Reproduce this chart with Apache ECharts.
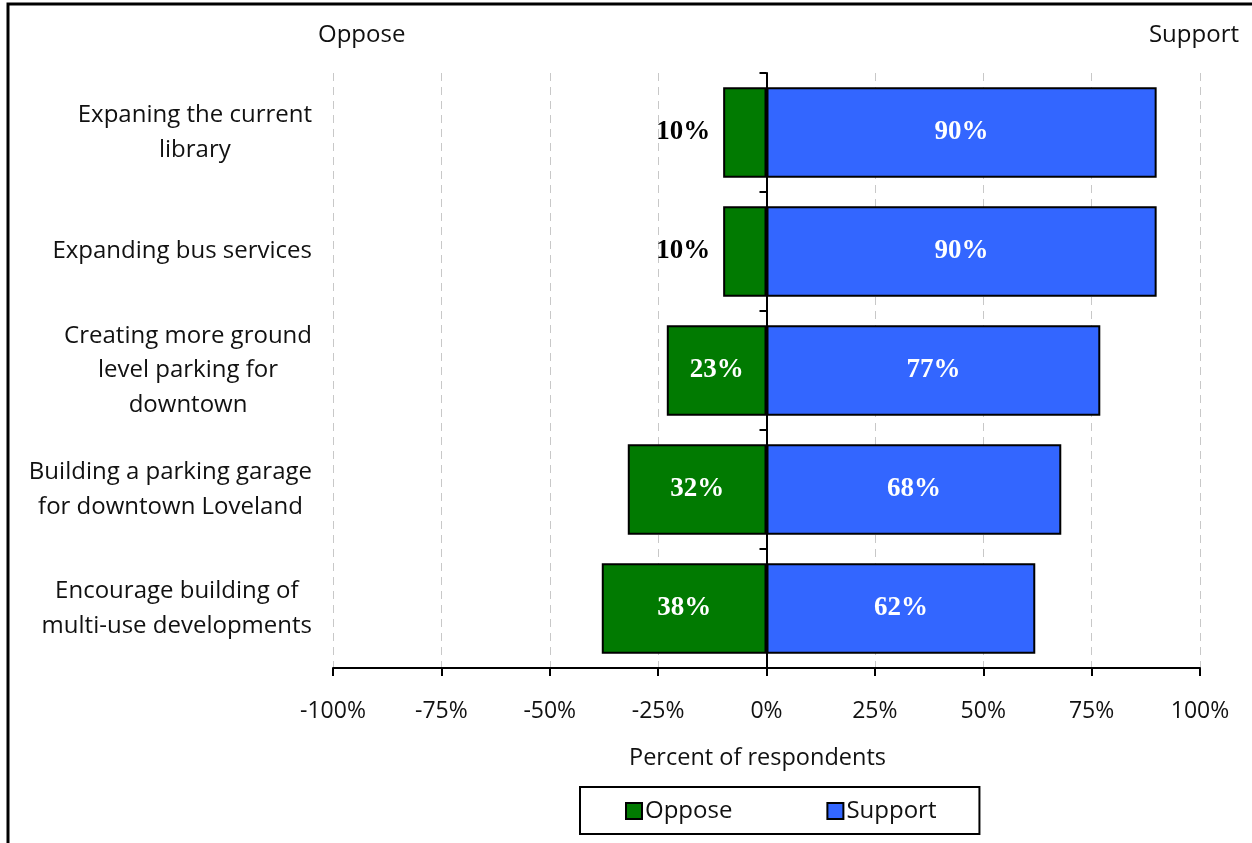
<!DOCTYPE html>
<html>
<head>
<meta charset="utf-8">
<script src="https://cdn.jsdelivr.net/npm/echarts@6/dist/echarts.min.js"></script>
<style>
  html, body { margin: 0; padding: 0; background: #fff; }
  #chart { width: 1252px; height: 843px; }
</style>
</head>
<body>
<div id="chart"></div>
<script>
// Survey items, listed top to bottom
const categories = [
  'Expaning the current\nlibrary',
  'Expanding bus services',
  'Creating more ground\nlevel parking for\ndowntown',
  'Building a parking garage\nfor downtown Loveland',
  'Encourage building of\nmulti-use developments'
];
// Share of respondents (percent)
const opposeValues = [10, 10, 23, 32, 38];
const supportValues = [90, 90, 77, 68, 62];
const xTicks = [-100, -75, -50, -25, 0, 25, 50, 75, 100];

const labelFont = '"Open Sans", "Noto Sans", sans-serif';
const valueFont = '"Liberation Serif", "DejaVu Serif", serif';
const green = '#017A01';
const blue = '#3366FF';

const chart = echarts.init(document.getElementById('chart'), null, { renderer: 'canvas' });

// Each line of a category name is centred inside a right-aligned block
function wrapLines(s) {
  return s.split('\n').map(l => '{c|' + l + '}').join('\n');
}

const option = {
  backgroundColor: '#fff',
  animation: false,
  grid: { left: 333, right: 52, top: 73, bottom: 175, containLabel: false },
  graphic: [
    { type: 'rect', shape: { x: 8, y: 4, width: 1260, height: 860 },
      style: { fill: 'none', stroke: '#000', lineWidth: 3 }, silent: true },
    { type: 'text', left: 318, top: 23,
      style: { text: 'Oppose', font: '24px ' + labelFont, fill: '#111' } },
    { type: 'text', right: 13, top: 23,
      style: { text: 'Support', font: '24px ' + labelFont, fill: '#111' } }
  ],
  legend: {
    data: ['Oppose', 'Support'],
    left: 580, top: 787,
    orient: 'horizontal',
    borderColor: '#000', borderWidth: 2,
    padding: [12, 43, 11, 45],
    itemGap: 94,
    itemWidth: 16, itemHeight: 16,
    icon: 'rect',
    textStyle: { fontFamily: labelFont, fontSize: 24, color: '#111', padding: [0, 0, 0, -2] },
    selectedMode: false
  },
  xAxis: {
    type: 'value',
    min: -100, max: 100, interval: 25,
    axisLine: { show: true, onZero: false, lineStyle: { color: '#000', width: 2 } },
    axisTick: { show: true, length: 8, lineStyle: { color: '#000', width: 2 } },
    axisLabel: {
      margin: 32, fontFamily: labelFont, fontSize: 23, color: '#111',
      formatter: v => xTicks.includes(v) ? v + '%' : ''
    },
    splitLine: { show: true, lineStyle: { color: '#c8c8c8', type: [8, 6], width: 1 } },
    name: 'Percent of respondents',
    nameLocation: 'middle',
    nameGap: 78,
    nameTextStyle: { fontFamily: labelFont, fontSize: 23.5, color: '#111', padding: [0, 18, 0, 0] }
  },
  yAxis: [
    {
      type: 'category',
      data: categories,
      inverse: true,
      position: 'left',
      axisLine: { show: false, onZero: false },
      axisTick: { show: false },
      axisLabel: {
        margin: 21,
        formatter: v => wrapLines(v),
        rich: {
          c: { align: 'center', fontFamily: labelFont, fontSize: 24, lineHeight: 34.5, color: '#111' }
        }
      }
    },
    {
      type: 'category',
      data: categories,
      inverse: true,
      position: 'left',
      axisLine: { show: true, onZero: true, lineStyle: { color: '#000', width: 2 } },
      axisTick: { show: true, length: 7, lineStyle: { color: '#000', width: 2 } },
      axisLabel: { show: false }
    }
  ],
  series: [
    {
      name: 'Oppose',
      type: 'bar',
      stack: 'total',
      barCategoryGap: '24%',
      data: opposeValues.map(v => {
        const outside = v < 15;
        return {
          value: -v,
          label: outside
            ? { position: 'left', distance: 13, color: '#000' }
            : { position: 'inside', color: '#fff' }
        };
      }),
      itemStyle: { color: green, borderColor: '#000', borderWidth: 2 },
      label: {
        show: true,
        fontFamily: valueFont, fontWeight: 'bold', fontSize: 27,
        formatter: p => Math.abs(p.value) + '%'
      }
    },
    {
      name: 'Support',
      type: 'bar',
      stack: 'total',
      barCategoryGap: '24%',
      data: supportValues,
      itemStyle: { color: blue, borderColor: '#000', borderWidth: 2 },
      label: {
        show: true, position: 'inside', color: '#fff',
        fontFamily: valueFont, fontWeight: 'bold', fontSize: 27,
        formatter: p => p.value + '%'
      }
    }
  ]
};

chart.setOption(option);
</script>
</body>
</html>
